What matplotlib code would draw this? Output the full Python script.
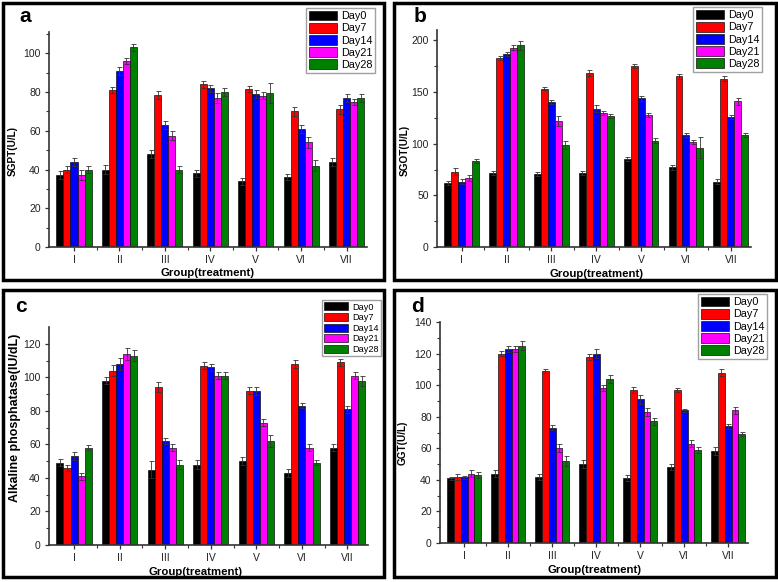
import numpy as np
import matplotlib
matplotlib.use('Agg')
import matplotlib.pyplot as plt
from matplotlib.patches import Rectangle

plt.rcParams['font.family'] = ['Liberation Sans', 'DejaVu Sans']

W, H = 778, 582

groups = ['I', 'II', 'III', 'IV', 'V', 'VI', 'VII']
days = ['Day0', 'Day7', 'Day14', 'Day21', 'Day28']
colors = ['#000000', '#ff0000', '#0000ff', '#ff00ff', '#008000']

# one row per day, one value per group
sgpt = [[37, 40, 48, 38, 34, 36, 44],
        [40, 81, 78.5, 84, 81.5, 70, 71],
        [44, 91, 63, 82, 79, 61, 77],
        [37, 96, 57.5, 77, 78, 54, 75],
        [40, 103, 40, 80, 79.5, 42, 77]]
sgpt_err = [[2, 2.5, 2, 2, 1.8, 1.5, 2],
            [2, 1.5, 2, 1.8, 1.5, 2.2, 2.5],
            [2, 2, 2, 1.8, 2, 2, 2],
            [2.5, 1.5, 2.5, 2.5, 1.8, 3, 1.5],
            [1.8, 1.8, 1.8, 2, 5, 3, 2]]

sgot = [[62, 72, 71, 72, 85, 77, 63],
        [73, 183, 153, 168, 175, 165, 163],
        [63, 187, 140, 134, 144, 108, 126],
        [67, 193, 122, 130, 128, 102, 141],
        [83, 195, 99, 127, 103, 96, 108]]
sgot_err = [[2, 2, 2, 2, 2, 2.5, 2.5],
            [3, 2, 1.5, 3, 2, 2.5, 2],
            [2.5, 2, 2, 3, 2.5, 2, 2],
            [3, 2, 5, 2, 2, 2, 3.5],
            [2, 4, 4, 2, 2.5, 10, 2]]

alp = [[49, 98, 45, 48, 50, 43, 58],
       [46, 104, 94, 107, 92, 108, 109],
       [53, 108, 62, 106, 92, 83, 81],
       [41, 114, 58, 101, 73, 58, 101],
       [58, 113, 48, 101, 62, 49, 98]]
alp_err = [[2, 2, 5, 2.5, 2.5, 2.5, 2],
           [2, 3.5, 3, 2, 2, 2.5, 2],
           [2.5, 3.5, 2, 2, 2.5, 1.5, 2],
           [2, 3.5, 2, 2, 2, 2, 2],
           [1.5, 3, 2.5, 2, 3.5, 1.5, 3]]

ggt = [[41, 44, 42, 50, 41, 48, 58],
       [42, 120, 109, 118, 97, 97, 108],
       [41.5, 123, 73, 120, 91, 84, 74],
       [44, 123, 60, 98, 83, 63, 84],
       [43, 125, 52, 104, 77, 59, 69]]
ggt_err = [[1, 2.5, 2, 2.5, 2, 2, 2.5],
           [2, 1.5, 1.5, 2, 2, 1.5, 2],
           [1, 2, 1.5, 3, 3, 1, 1.5],
           [2, 2, 2.5, 2, 2.5, 2, 2],
           [2, 3, 3, 2.5, 2.5, 2, 1.5]]


def px_box(l, t, r, b):
    return [l / W, 1 - b / H, (r - l) / W, (b - t) / H]


def fx(x):
    return x / W


def fy(y):
    return 1 - y / H


fig = plt.figure(figsize=(W / 100, H / 100), dpi=100)

# panel frames
for l, t, r, b in [(3, 3, 384, 280), (394, 3, 776, 280),
                   (3, 290, 384, 577), (394, 290, 776, 577)]:
    fig.patches.append(Rectangle((fx(l), fy(b)), fx(r - l), (b - t) / H,
                                 transform=fig.transFigure, fill=False,
                                 edgecolor='black', linewidth=2.5))


def draw_panel(box, vals, errs, ymax, ystep, ylabel, ylab_pos, ylab_size,
               letter, letter_pos, xlab_pos, leg_pos, leg_size):
    ax = fig.add_axes(px_box(*box))
    x = np.arange(1, len(groups) + 1)
    w = 0.155
    for i, day in enumerate(days):
        ax.bar(x + (i - 2) * w, vals[i], w, yerr=errs[i], color=colors[i],
               edgecolor='#111111', linewidth=0.5, label=day,
               error_kw=dict(ecolor='#333333', elinewidth=0.6, capsize=1.8,
                             capthick=0.6))
    ax.set_xlim(0.45, 7.45)
    ax.set_ylim(0, ymax)
    ax.set_xticks(x)
    ax.set_xticklabels(groups)
    ax.set_xticks(np.arange(1.5, 7.0, 1.0), minor=True)
    ax.set_yticks(np.arange(0, ymax + 0.1, ystep))
    ax.set_yticks(np.arange(ystep / 2, ymax, ystep), minor=True)
    for s in ['top', 'right']:
        ax.spines[s].set_visible(False)
    for s in ['left', 'bottom']:
        ax.spines[s].set_linewidth(1.2)
        ax.spines[s].set_color('#333333')
    ax.tick_params(which='major', direction='out', length=3, width=0.9,
                   labelsize=7.5, colors='#333333', labelcolor='#222222', pad=3)
    ax.tick_params(which='minor', direction='out', length=2, width=0.8,
                   colors='#333333')
    fig.text(fx(xlab_pos[0]), fy(xlab_pos[1]), 'Group(treatment)', ha='center',
             va='center', fontsize=8.2, fontweight='bold')
    fig.text(fx(ylab_pos[0]), fy(ylab_pos[1]), ylabel, ha='center', va='center',
             rotation=90, fontsize=ylab_size, fontweight='bold')
    fig.text(fx(letter_pos[0]), fy(letter_pos[1]), letter, ha='center',
             va='center', fontsize=15, fontweight='bold')
    leg = ax.legend(loc='upper left', bbox_to_anchor=(fx(leg_pos[0]), fy(leg_pos[1])),
                    bbox_transform=fig.transFigure, fontsize=leg_size,
                    frameon=True, fancybox=False, edgecolor='#888888',
                    handlelength=2.6, handleheight=1.0, labelspacing=0.15,
                    handletextpad=0.4, borderpad=0.25, borderaxespad=0)
    leg.get_frame().set_linewidth(1.0)
    return ax


draw_panel((49, 32, 367, 247), sgpt, sgpt_err, 111, 20, 'SGPT(U/L)', (13, 151),
           7.2, 'a', (25, 17), (208, 273), (306, 8), 7.8)
draw_panel((437, 30, 751, 247), sgot, sgot_err, 210, 50, 'SGOT(U/L)', (405, 150),
           7.2, 'b', (420, 17), (597, 274), (693, 7), 7.8)
draw_panel((49, 327, 368, 545), alp, alp_err, 130, 20,
           'Alkaline phosphatase(IU/dL)', (15, 418), 9.0, 'c', (21, 307),
           (196, 572), (322, 300), 6.6)
draw_panel((440, 322, 748, 543), ggt, ggt_err, 140, 20, 'GGT(U/L)', (403, 443),
           7.2, 'd', (418, 307), (595, 570), (698, 294), 7.8)

fig.savefig('out.png', dpi=100)
